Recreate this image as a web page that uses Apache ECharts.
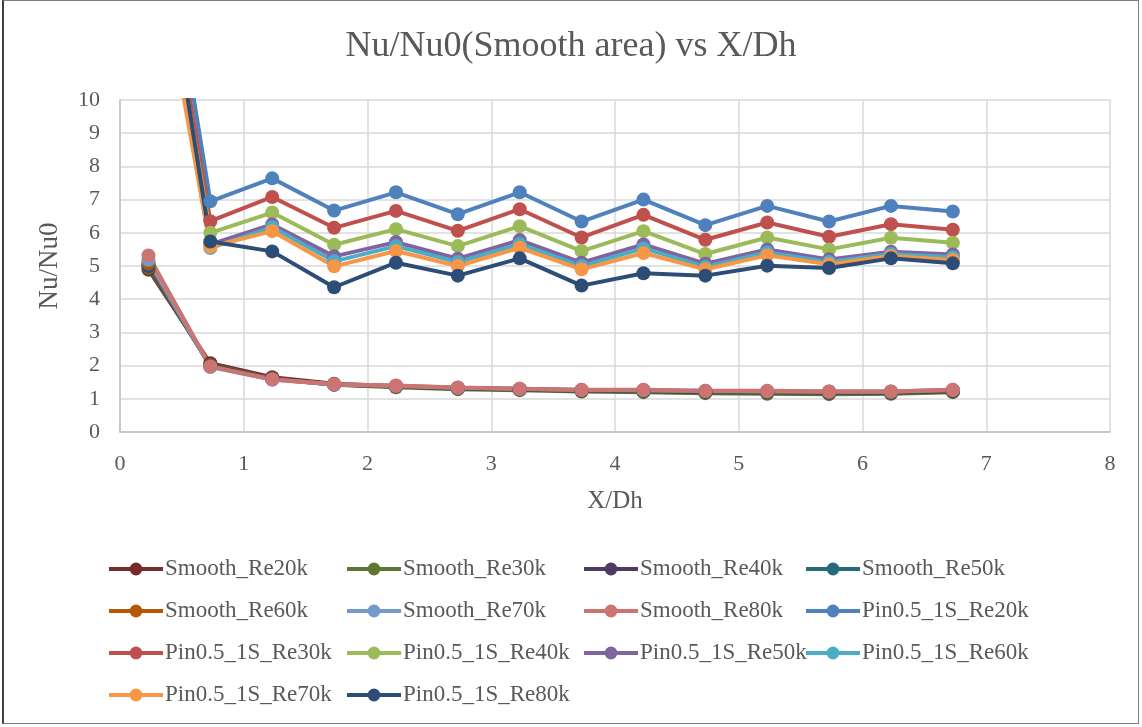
<!DOCTYPE html>
<html>
<head>
<meta charset="utf-8">
<script src="https://cdn.jsdelivr.net/npm/echarts@6/dist/echarts.min.js"></script>
<style>
  html, body { margin: 0; padding: 0; background: #fff; }
  #frame { position: absolute; left: 2px; top: 0; width: 1137px; height: 724px; border: 1px solid #7f7f7f; border-left: 2px solid #404040; box-sizing: border-box; }
  #chart { position: absolute; left: 0; top: 0; width: 1142px; height: 727px; }
</style>
</head>
<body>
<div id="frame"></div>
<div id="chart"></div>
<script>
// Streamwise stations X/Dh
const xDh = [0.23, 0.73, 1.23, 1.73, 2.23, 2.73, 3.23, 3.73, 4.23, 4.73, 5.23, 5.73, 6.23, 6.73];

// Smooth channel Nu/Nu0
const smoothRe20k = [4.89, 2.07, 1.65, 1.45, 1.38, 1.32, 1.29, 1.24, 1.23, 1.20, 1.18, 1.17, 1.17, 1.22];
const smoothRe30k = [4.95, 2.02, 1.62, 1.42, 1.35, 1.29, 1.26, 1.22, 1.20, 1.17, 1.15, 1.14, 1.15, 1.20];
const smoothRe40k = [5.00, 2.00, 1.61, 1.43, 1.37, 1.31, 1.28, 1.24, 1.23, 1.20, 1.19, 1.18, 1.18, 1.23];
const smoothRe50k = [5.05, 1.99, 1.60, 1.43, 1.38, 1.32, 1.29, 1.26, 1.25, 1.22, 1.21, 1.20, 1.20, 1.25];
const smoothRe60k = [5.10, 1.98, 1.59, 1.43, 1.38, 1.33, 1.30, 1.26, 1.26, 1.23, 1.22, 1.21, 1.21, 1.26];
const smoothRe70k = [5.19, 1.96, 1.58, 1.43, 1.39, 1.33, 1.30, 1.27, 1.26, 1.24, 1.23, 1.22, 1.22, 1.27];
const smoothRe80k = [5.32, 1.97, 1.58, 1.44, 1.40, 1.34, 1.30, 1.27, 1.27, 1.24, 1.24, 1.22, 1.22, 1.27];

// Pin-fin channel (Pin0.5_1S) Nu/Nu0
const pinRe20k = [18.5, 6.95, 7.64, 6.67, 7.22, 6.56, 7.22, 6.34, 7.00, 6.23, 6.81, 6.34, 6.81, 6.64];
const pinRe30k = [17.5, 6.35, 7.08, 6.15, 6.66, 6.06, 6.71, 5.86, 6.54, 5.79, 6.31, 5.88, 6.26, 6.09];
const pinRe40k = [17.0, 6.00, 6.61, 5.64, 6.11, 5.60, 6.20, 5.45, 6.05, 5.36, 5.86, 5.50, 5.85, 5.70];
const pinRe50k = [16.8, 5.65, 6.25, 5.29, 5.72, 5.22, 5.78, 5.10, 5.65, 5.07, 5.50, 5.20, 5.43, 5.35];
const pinRe60k = [16.5, 5.54, 6.17, 5.14, 5.60, 5.12, 5.66, 5.00, 5.53, 4.98, 5.41, 5.12, 5.36, 5.26];
const pinRe70k = [16.0, 5.58, 6.05, 4.99, 5.45, 5.00, 5.55, 4.90, 5.39, 4.90, 5.32, 5.05, 5.30, 5.18];
const pinRe80k = [17.5, 5.74, 5.44, 4.36, 5.10, 4.71, 5.23, 4.41, 4.78, 4.71, 5.01, 4.94, 5.23, 5.08];

const seriesList = [
  { name: 'Smooth_Re20k', values: smoothRe20k, color: '#772C2A' },
  { name: 'Smooth_Re30k', values: smoothRe30k, color: '#5F7530' },
  { name: 'Smooth_Re40k', values: smoothRe40k, color: '#4D3B62' },
  { name: 'Smooth_Re50k', values: smoothRe50k, color: '#276A7C' },
  { name: 'Smooth_Re60k', values: smoothRe60k, color: '#B65708' },
  { name: 'Smooth_Re70k', values: smoothRe70k, color: '#729ACA' },
  { name: 'Smooth_Re80k', values: smoothRe80k, color: '#CD7371' },
  { name: 'Pin0.5_1S_Re20k', values: pinRe20k, color: '#4F81BD' },
  { name: 'Pin0.5_1S_Re30k', values: pinRe30k, color: '#C0504D' },
  { name: 'Pin0.5_1S_Re40k', values: pinRe40k, color: '#9BBB59' },
  { name: 'Pin0.5_1S_Re50k', values: pinRe50k, color: '#8064A2' },
  { name: 'Pin0.5_1S_Re60k', values: pinRe60k, color: '#4BACC6' },
  { name: 'Pin0.5_1S_Re70k', values: pinRe70k, color: '#F79646' },
  { name: 'Pin0.5_1S_Re80k', values: pinRe80k, color: '#2C4D75' }
];

const FONT = '"Liberation Serif", "DejaVu Serif", serif';
const TEXT = '#595959';

// Legend laid out in four aligned columns (row-major order of the series)
const legendCols = [
  { left: 107, names: [0, 4, 8, 12] },
  { left: 345, names: [1, 5, 9, 13] },
  { left: 582, names: [2, 6, 10] },
  { left: 804, names: [3, 7, 11] }
];

const chart = echarts.init(document.getElementById('chart'), null, { renderer: 'canvas' });

chart.setOption({
  backgroundColor: 'transparent',
  animation: false,
  title: {
    text: 'Nu/Nu0(Smooth area) vs X/Dh',
    left: 'center',
    top: 24,
    textStyle: { fontFamily: FONT, fontSize: 36, fontWeight: 'normal', color: TEXT }
  },
  legend: legendCols.map(col => ({
    orient: 'vertical',
    left: col.left,
    top: 557,
    itemWidth: 54,
    itemHeight: 16,
    itemGap: 18,
    padding: 0,
    selectedMode: false,
    data: col.names.map(i => seriesList[i].name),
    lineStyle: { width: 4 },
    textStyle: { fontFamily: FONT, fontSize: 23, color: TEXT, lineHeight: 24, padding: [0, 0, 0, -3] }
  })),
  grid: { left: 120, right: 32, top: 100, bottom: 295, containLabel: false },
  xAxis: {
    type: 'value',
    min: 0, max: 8, interval: 1,
    name: 'X/Dh',
    nameLocation: 'middle',
    nameGap: 57,
    nameTextStyle: { fontFamily: FONT, fontSize: 25, color: TEXT },
    axisLine: { show: true, lineStyle: { color: '#bfbfbf', width: 1.5 } },
    axisTick: { show: false },
    axisLabel: { fontFamily: FONT, fontSize: 22, color: TEXT, margin: 21 },
    splitLine: { show: true, lineStyle: { color: '#d9d9d9', width: 1.5 } }
  },
  yAxis: {
    type: 'value',
    min: 0, max: 10, interval: 1,
    name: 'Nu/Nu0',
    nameLocation: 'middle',
    nameGap: 57,
    nameRotate: 90,
    nameTextStyle: { fontFamily: FONT, fontSize: 27, color: TEXT },
    axisLine: { show: true, lineStyle: { color: '#bfbfbf', width: 1.5 } },
    axisTick: { show: false },
    axisLabel: { fontFamily: FONT, fontSize: 22, color: TEXT, margin: 20 },
    splitLine: { show: true, lineStyle: { color: '#d9d9d9', width: 1.5 } }
  },
  series: seriesList.map(s => ({
    name: s.name,
    type: 'line',
    clip: true,
    data: xDh.map((x, i) => [x, s.values[i]]),
    symbol: 'circle',
    symbolSize: 14,
    showSymbol: true,
    lineStyle: { color: s.color, width: 4 },
    itemStyle: { color: s.color, borderWidth: 0 },
    emphasis: { disabled: true }
  }))
});
</script>
</body>
</html>
